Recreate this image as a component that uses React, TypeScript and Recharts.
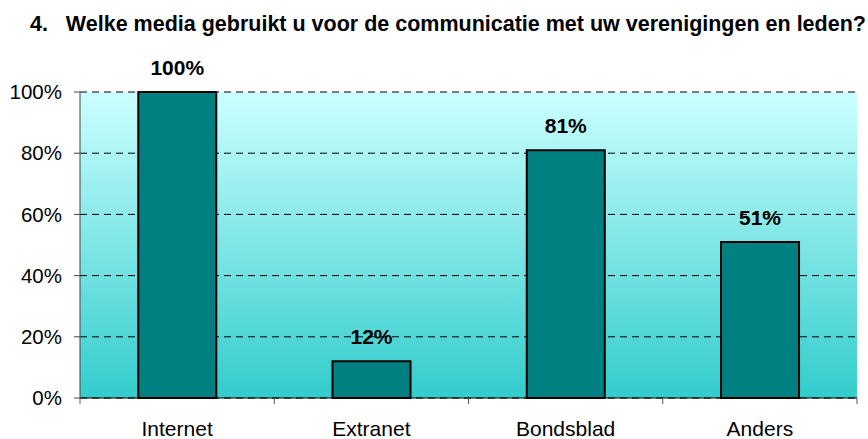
import React from 'react'
import { BarChart, Bar, XAxis, YAxis, CartesianGrid, LabelList } from 'recharts'

const categories = ['Internet', 'Extranet', 'Bondsblad', 'Anders']
const shares = [100, 12, 81, 51]
const yTicks = [0, 20, 40, 60, 80, 100]

const data = categories.map((name, i) => ({ name, value: shares[i] }))

const W = 868
const H = 439
const M = { top: 92, right: 11, bottom: 11, left: 20 }
const Y_W = 60
const BAND = (W - M.left - M.right - Y_W) / categories.length

const CategoryTick = (props: any) => {
  const { x, y, payload, index } = props
  return (
    <g>
      <line x1={x - BAND / 2} x2={x - BAND / 2} y1={y} y2={y + 6} stroke="#555" strokeWidth={1} />
      {index === categories.length - 1 && (
        <line x1={x + BAND / 2} x2={x + BAND / 2} y1={y} y2={y + 6} stroke="#555" strokeWidth={1} />
      )}
      <text x={x} y={y + 38} textAnchor="middle" fontSize={21} fill="#000">
        {payload.value}
      </text>
    </g>
  )
}

export default function App() {
  return (
    <div style={{ position: 'absolute', left: 0, top: 0, width: W, height: H, background: '#fff', fontFamily: 'Liberation Sans, Arial, sans-serif' }}>
      <div style={{ position: 'absolute', left: 30, top: 12, fontSize: 21.5, fontWeight: 'bold', whiteSpace: 'pre', color: '#000' }}>
        {'4.   Welke media gebruikt u voor de communicatie met uw verenigingen en leden?'}
      </div>
      <BarChart width={W} height={H} data={data} margin={M} barCategoryGap="30%">
        <defs>
          <linearGradient id="bg" x1="0" y1="0" x2="0" y2="1">
            <stop offset="0%" stopColor="#CCFFFF" />
            <stop offset="100%" stopColor="#33CCCC" />
          </linearGradient>
        </defs>
        <CartesianGrid vertical={false} fill="url(#bg)" stroke="#000" strokeDasharray="7 5" />
        <XAxis
          dataKey="name"
          axisLine={{ stroke: '#000', strokeWidth: 1 }}
          tickLine={false}
          tickSize={0}
          tickMargin={0}
          height={30}
          tick={<CategoryTick />}
          interval={0}
        />
        <YAxis
          domain={[0, 100]}
          ticks={yTicks}
          width={Y_W}
          tickFormatter={(v) => `${v}%`}
          tick={{ fontSize: 20.5, fill: '#000' }}
          tickSize={6}
          tickMargin={12}
          axisLine={{ stroke: '#444' }}
          tickLine={{ stroke: '#444' }}
        />
        <YAxis yAxisId="r" orientation="right" width={0} domain={[0, 100]} tick={false} tickLine={false} axisLine={{ stroke: '#444' }} />
        <Bar dataKey="value" fill="#008080" stroke="#000" strokeWidth={2} isAnimationActive={false}>
          <LabelList
            dataKey="value"
            position="top"
            offset={17}
            formatter={(v: any) => `${v}%`}
            style={{ fontSize: 21, fontWeight: 'bold', fill: '#000' }}
          />
        </Bar>
      </BarChart>
    </div>
  )
}
